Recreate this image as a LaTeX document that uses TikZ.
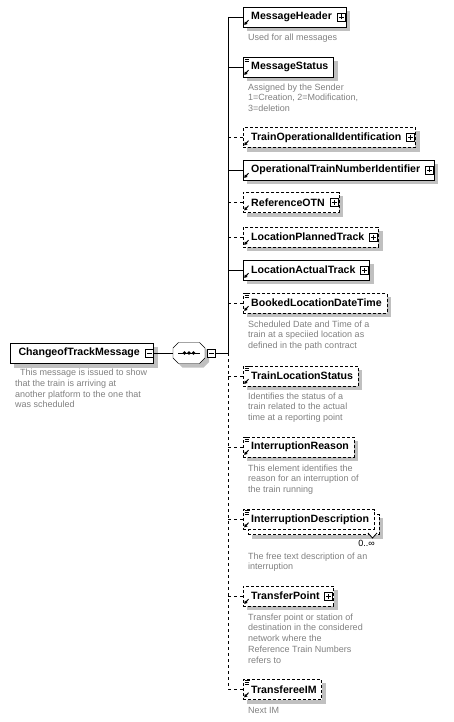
\documentclass[tikz,border=0pt]{standalone}
\usepackage{fontspec}
\setmainfont{Liberation Sans}
\usetikzlibrary{positioning,arrows.meta}
\definecolor{notegray}{RGB}{128,128,128}
\definecolor{shadowgray}{RGB}{192,192,192}
\pgfdeclarelayer{shadow}
\pgfsetlayers{shadow,main}
\tikzset{
  elem/.style={draw, fill=white, anchor=west, minimum height=20pt, inner xsep=5pt, inner ysep=0pt,
    font=\bfseries\fontsize{10.6}{12}\selectfont, execute at begin node={\hspace*{3pt}}},
  optelem/.style={elem, dash pattern=on 3pt off 2pt},
  expand/.style={execute at end node={\hspace*{9pt}}},
  note/.style={anchor=north west, align=left, inner sep=0pt, text=notegray,
    font=\fontsize{9}{10.75}\selectfont},
  expbox/.style={draw, solid, fill=white, minimum size=8pt, inner sep=0pt, line width=.8pt},
  plusbox/.style={expbox, path picture={\draw[line width=.8pt] (path picture bounding box.center)
    +(-2.5pt,0) -- +(2.5pt,0) +(0,-2.5pt) -- +(0,2.5pt);}},
  minusbox/.style={expbox, path picture={\draw[line width=.8pt] (path picture bounding box.center)
    +(-2.5pt,0) -- +(2.5pt,0);}}
}
% small marks on the element boxes
\newcommand\refmark[1]{\draw[solid, line width=1pt, -{Triangle[length=3pt,width=3.4pt]}]
  ([xshift=5.5pt,yshift=7pt]#1.south west) -- ([xshift=1.2pt,yshift=2.3pt]#1.south west);}
\newcommand\simplemark[1]{\draw[solid, line width=.7pt]
  ([xshift=1.5pt,yshift=-1pt]#1.north west) -- +(5pt,0)
  ([xshift=1.5pt,yshift=-3pt]#1.north west) -- +(4pt,0)
  ([xshift=1.5pt,yshift=-5pt]#1.north west) -- +(4pt,0);}
\newcommand\shadowof[1]{\begin{pgfonlayer}{shadow}
  \fill[shadowgray] ([xshift=4pt,yshift=-4pt]#1.south west) rectangle ([xshift=4pt,yshift=-4pt]#1.north east);
  \end{pgfonlayer}}

\begin{document}
\begin{tikzpicture}[x=1pt, y=-1pt, line width=1pt]
\useasboundingbox (0,0) rectangle (453,722);

% root and sequence
\node[elem, expand] (root) at (10,353) {ChangeofTrackMessage};
\node[minusbox] (rootx) at ([xshift=-5pt]root.east) {};
\shadowof{root}
\node[note] (rootd) at (15,369) {\hspace*{5pt}This message is issued to show\\that the train is arriving at\\another platform to the one that\\was scheduled};
\coordinate (seq) at (189,353);
\fill[shadowgray, shift={(193,357)}] (-16,-5) -- (-10.5,-10.5) -- (10.5,-10.5) -- (16,-5) -- (16,5) -- (10.5,10.5) -- (-10.5,10.5) -- (-16,5) -- cycle;
\draw[fill=white, shift={(seq)}] (-16,-5) -- (-10.5,-10.5) -- (10.5,-10.5) -- (16,-5) -- (16,5) -- (10.5,10.5) -- (-10.5,10.5) -- (-16,5) -- cycle;
\draw ([xshift=-11pt]seq) -- ([xshift=11pt]seq);
\foreach \d in {-4.5,0,4.5} \fill ([xshift=\d pt]seq) circle (1.9pt);
\coordinate (seqin) at (173,353);
\node[minusbox] (seqx) at (211.5,353) {};
\draw (root.east) -- (seqin);
\coordinate (spine) at (228,353);
\draw (seqx.east) -- (spine);

% children
\node[elem, expand] (mh) at (243,17) {MessageHeader};
\node[plusbox] (mhx) at ([xshift=-5pt]mh.east) {};
\shadowof{mh}\refmark{mh}
\node[note] (mhd) at (248,33.5) {Used for all messages};

\node[elem] (ms) at (243,67) {MessageStatus};
\shadowof{ms}\simplemark{ms}\refmark{ms}
\node[note] (msd) at (248,83.5) {Assigned by the Sender\\1=Creation, 2=Modification,\\3=deletion};

\node[optelem, expand] (toi) at (243,137.5) {TrainOperationalIdentification};
\node[plusbox] (toix) at ([xshift=-5pt]toi.east) {};
\shadowof{toi}\refmark{toi}

\node[elem, expand] (otn) at (243,170) {OperationalTrainNumberIdentifier};
\node[plusbox] (otnx) at ([xshift=-5pt]otn.east) {};
\shadowof{otn}\refmark{otn}

\node[optelem, expand] (rotn) at (243,202.5) {ReferenceOTN};
\node[plusbox] (rotnx) at ([xshift=-5pt]rotn.east) {};
\shadowof{rotn}\refmark{rotn}

\node[optelem, expand] (lpt) at (243,237) {LocationPlannedTrack};
\node[plusbox] (lptx) at ([xshift=-5pt]lpt.east) {};
\shadowof{lpt}\refmark{lpt}

\node[elem, expand] (lat) at (243,270) {LocationActualTrack};
\node[plusbox] (latx) at ([xshift=-5pt]lat.east) {};
\shadowof{lat}\refmark{lat}

\node[optelem] (bldt) at (243,303) {BookedLocationDateTime};
\shadowof{bldt}\simplemark{bldt}\refmark{bldt}
\node[note] (bldtd) at (248,320.5) {Scheduled Date and Time of a\\train at a speciied location as\\defined in the path contract};

\node[optelem] (tls) at (243,376) {TrainLocationStatus};
\shadowof{tls}\simplemark{tls}\refmark{tls}
\node[note] (tlsd) at (248,392.5) {Identifies the status of a\\train related to the actual\\time at a reporting point};

\node[optelem] (ir) at (243,447) {InterruptionReason};
\shadowof{ir}\simplemark{ir}\refmark{ir}
\node[note] (ird) at (248,464.5) {This element identifies the\\reason for an interruption of\\the train running};

\node[optelem] (idnb) at (248,524.5) {\phantom{InterruptionDescription}};
\shadowof{idnb}
\node[optelem] (idn) at (243,519.5) {InterruptionDescription};
\simplemark{idn}\refmark{idn}
\draw[fill=white, line width=.8pt] (368,533) -- (372.5,538) -- (377,533);
\node[anchor=base east, inner sep=0pt, font=\fontsize{9}{10}\selectfont] (idnm) at (375,546) {0..∞};
\node[note] (idnd) at (248,552.5) {The free text description of an\\interruption};

\node[optelem, expand] (tp) at (243,596) {TransferPoint};
\node[plusbox] (tpx) at ([xshift=-5pt]tp.east) {};
\shadowof{tp}\refmark{tp}
\node[note] (tpd) at (248,613.5) {Transfer point or station of\\destination in the considered\\network where the\\Reference Train Numbers\\refers to};

\node[optelem] (tim) at (243,689.5) {TransfereeIM};
\shadowof{tim}\simplemark{tim}\refmark{tim}
\node[note] (timd) at (248,707.5) {Next IM};

% spine and connectors
\draw (spine |- mh.west) -- (spine);
\draw[dashed] (spine) -- (spine |- tim.west);
\foreach \e in {mh,ms,otn,lat} \draw (spine |- \e.west) -- (\e.west);
\foreach \e in {toi,rotn,lpt,bldt,tls,ir,idn,tp,tim} \draw[dashed] (spine |- \e.west) -- (\e.west);
\end{tikzpicture}
\end{document}
